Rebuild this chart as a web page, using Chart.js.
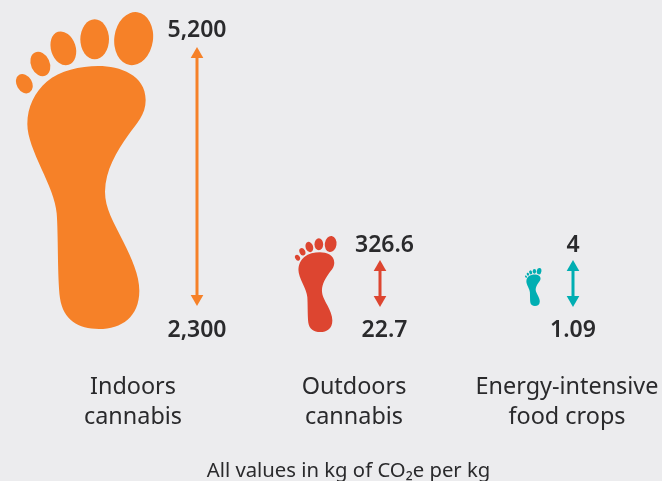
<!DOCTYPE html>
<html><head><meta charset="utf-8">
<style>html,body{margin:0;padding:0;background:#ECECEE}#w{position:relative;width:662px;height:481px}</style>
<script src="https://cdn.jsdelivr.net/npm/chart.js@4"></script>
</head><body><div id="w"><canvas id="c" width="662" height="481"></canvas></div>
<script>
// ---- data ----
const categories = [['Indoors','cannabis'],['Outdoors','cannabis'],['Energy-intensive','food crops']];
const lowValues  = [2300, 22.7, 1.09];
const highValues = [5200, 326.6, 4];
const noteText = 'All values in kg of CO\u2082e per kg';

// ---- styling and layout (not data) ----
const colors = ['#F68128','#DD4530','#00AEB2'];
const textColor = '#2A2A2C';
const fontFamily = '"Noto Sans", sans-serif';
const axisHeight = 121, plotHeight = 481 - axisHeight;
const labelCentres = [133, 354, 567];
const arrowX = [197, 380, 573];
const footX = [85, 316, 533.5];
const footHeight = [317, 96, 38];
const footShift = [-6, 0.5, 3.5];
const arrowEnds = [[54.3, 298.7],[267.3, 299.7],[267.3, 299.7]];
const valueLabelX = [197, 384.5, 573];
const highLabelGap = [24, 22, 22];
const lowLabelGap = [32, 31, 31];

function axisRange(i){
  const [pt, pb] = arrowEnds[i];
  const per = (highValues[i]-lowValues[i])/(pb-pt);
  return {min: lowValues[i]-(plotHeight-pb)*per, max: highValues[i]+pt*per};
}

const sole = new Path2D('M295 198C360 198 437 225 437 300C437 345 410 370 385 405C350 455 316 510 315 575C315 625 340 665 370 725C395 775 418 825 418 872C418 950 365 987 297 987C235 987 190 960 180 895C172 830 175 700 170 640C165 560 82 450 82 372C82 320 105 275 140 245C180 212 240 198 295 198Z');
const toes = [[401,116,58,80,8],[284,118,43,60,0],[190,145,37,52,-18],[121,192,28,38,-25],[73,251,23,31,-30]];
function footIcon(h,color,shift){
  const k=h/951, cv=document.createElement('canvas');
  cv.width=Math.ceil(413*k)+2; cv.height=Math.ceil(h+2*Math.abs(shift))+2;
  const g=cv.getContext('2d');
  g.translate(1,1+Math.abs(shift)+shift);
  g.scale(k,k); g.translate(-48,-36);
  g.fillStyle=color; g.fill(sole);
  toes.forEach(t=>{g.beginPath();g.ellipse(t[0],t[1],t[2],t[3],t[4]*Math.PI/180,0,Math.PI*2);g.fill();});
  return cv;
}

const datasets=[], scales={
  x:{type:'linear',min:0,max:662,
     afterBuildTicks:s=>{s.ticks=labelCentres.map(v=>({value:v}));},
     afterFit:s=>{s.height=axisHeight;s.paddingLeft=0;s.paddingRight=0;},
     grid:{display:false,drawTicks:false},border:{display:false},
     ticks:{autoSkip:false,maxRotation:0,padding:13,color:textColor,
       font:{family:fontFamily,size:23.4,lineHeight:1.25},
       callback:(v,i)=>categories[i]}}
};
categories.forEach((c,i)=>{
  const yId='y'+i;
  scales[yId]={type:'linear',display:false,...axisRange(i)};
  datasets.push({type:'scatter',label:c.join(' ')+' footprint',xAxisID:'x',yAxisID:yId,clip:false,
    data:[{x:footX[i],y:(lowValues[i]+highValues[i])/2}],
    pointStyle:footIcon(footHeight[i],colors[i],footShift[i]),pointRadius:5});
  datasets.push({type:'line',label:c.join(' ')+' range',xAxisID:'x',yAxisID:yId,clip:false,
    data:[{x:arrowX[i],y:highValues[i]},{x:arrowX[i],y:lowValues[i]}],
    borderColor:colors[i],borderWidth:3,backgroundColor:colors[i],
    pointStyle:'triangle',pointRadius:7.3,pointRotation:[0,180],pointBorderWidth:0,pointBackgroundColor:colors[i]});
});

const valueLabels={id:'valueLabels',afterDraw(chart){
  const g=chart.ctx; g.save();
  g.fillStyle=textColor; g.textAlign='center'; g.textBaseline='middle';
  g.font='600 23px '+fontFamily;
  categories.forEach((c,i)=>{
    const y=chart.scales['y'+i];
    g.fillText(highValues[i].toLocaleString('en-US'),valueLabelX[i],y.getPixelForValue(highValues[i])-highLabelGap[i]);
    g.fillText(lowValues[i].toLocaleString('en-US'),valueLabelX[i],y.getPixelForValue(lowValues[i])+lowLabelGap[i]);
  });
  g.font='20.3px '+fontFamily;
  g.fillText(noteText,348.5,471);
  g.restore();
}};

new Chart(document.getElementById('c'),{
  data:{datasets},
  options:{responsive:false,animation:false,layout:{padding:0,autoPadding:false},
    plugins:{legend:{display:false},tooltip:{enabled:false}},scales},
  plugins:[valueLabels]
});
</script></body></html>
